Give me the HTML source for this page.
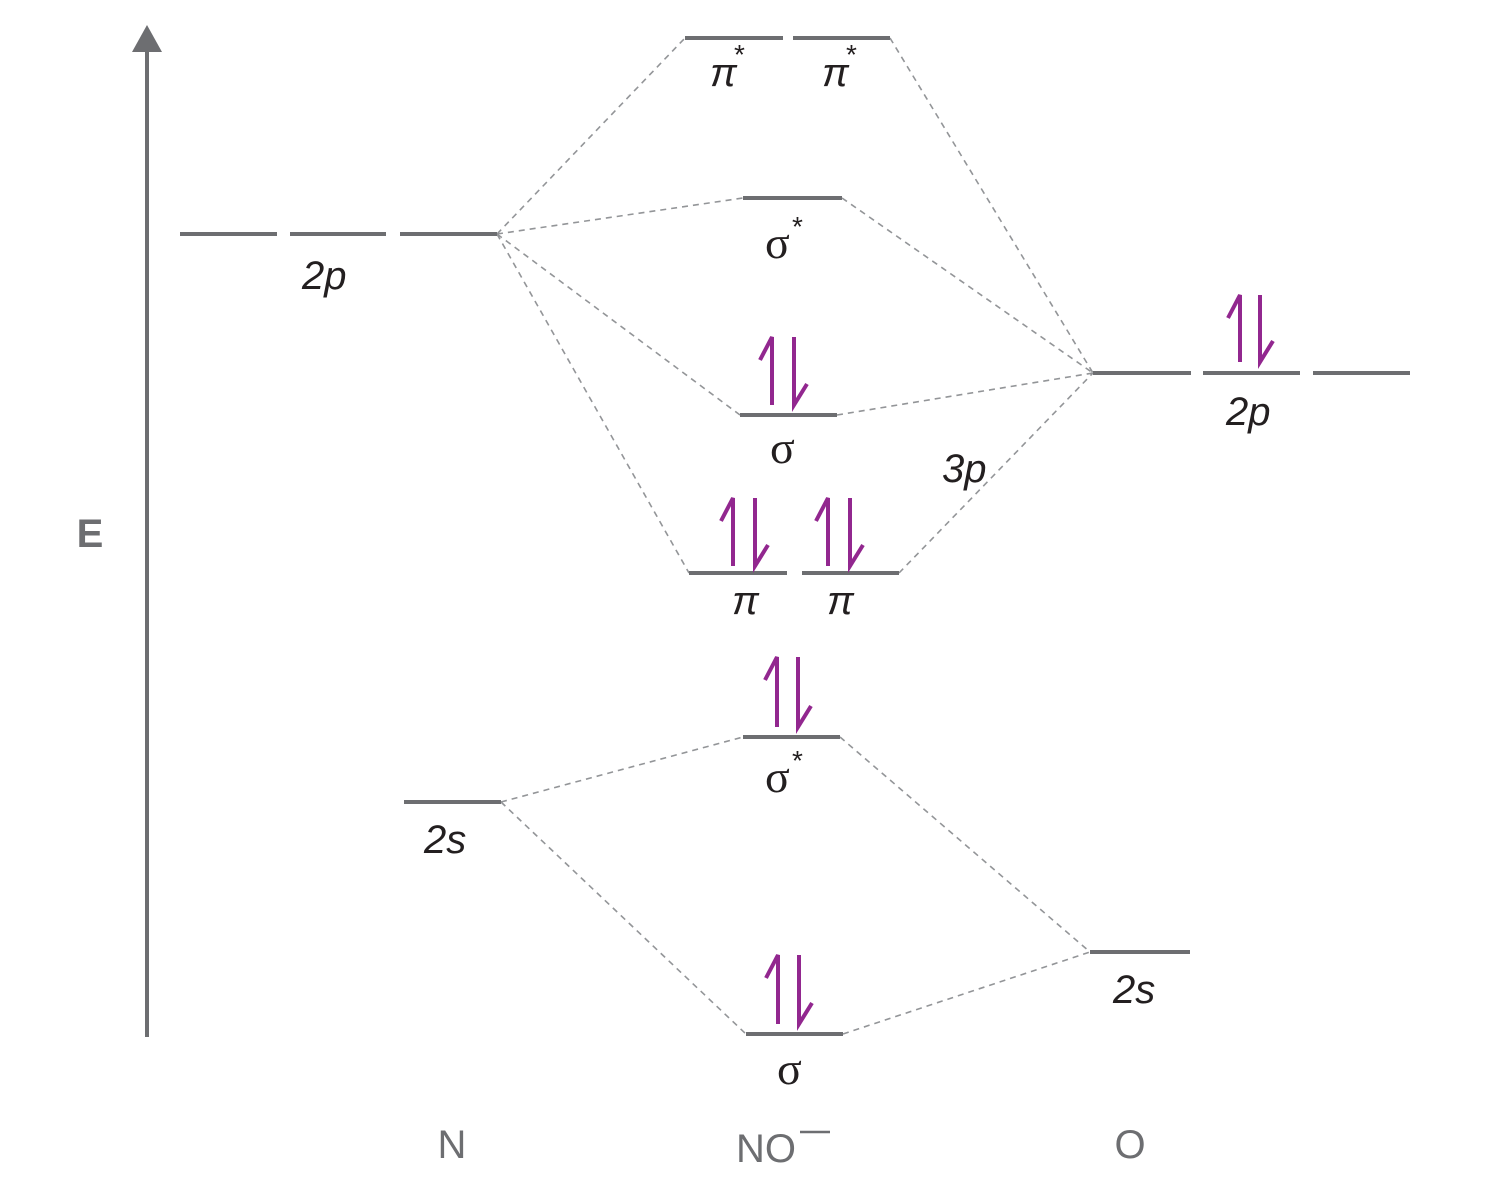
<!DOCTYPE html>
<html><head><meta charset="utf-8"><style>
html,body{margin:0;padding:0;background:#fff;}
svg{display:block;}
text{font-family:"Liberation Sans",sans-serif;fill:#231f20;}
.it{font-style:italic;}
.sg{font-family:"Liberation Serif",serif;}
.gl{fill:#6d6e71;}
</style></head><body>
<svg width="1500" height="1192" viewBox="0 0 1500 1192" xmlns="http://www.w3.org/2000/svg">
<line x1="147" y1="1037" x2="147" y2="50" stroke="#6d6e71" stroke-width="4"/>
<polygon points="147,25 132,52 162,52" fill="#6d6e71"/>
<text x="90" y="547" font-size="40" font-weight="bold" class="gl" text-anchor="middle">E</text>

<g stroke="#939598" stroke-width="1.6" stroke-dasharray="6,5" fill="none">
<line x1="497" y1="234" x2="685" y2="38"/>
<line x1="497" y1="234" x2="743" y2="198"/>
<line x1="497" y1="234" x2="740" y2="415"/>
<line x1="497" y1="234" x2="689" y2="573"/>
<line x1="890" y1="38" x2="1093" y2="373"/>
<line x1="842" y1="198" x2="1093" y2="373"/>
<line x1="837" y1="415" x2="1093" y2="373"/>
<line x1="899" y1="573" x2="1093" y2="373"/>
<line x1="501" y1="802" x2="743" y2="737"/>
<line x1="501" y1="802" x2="746" y2="1034"/>
<line x1="840" y1="737" x2="1090" y2="952"/>
<line x1="843" y1="1034" x2="1090" y2="952"/>
</g>

<g stroke="#6d6e71" stroke-width="4">
<line x1="180" y1="234" x2="277" y2="234"/>
<line x1="290" y1="234" x2="386" y2="234"/>
<line x1="400" y1="234" x2="497" y2="234"/>
<line x1="685" y1="38" x2="783" y2="38"/>
<line x1="793" y1="38" x2="890" y2="38"/>
<line x1="743" y1="198" x2="842" y2="198"/>
<line x1="740" y1="415" x2="837" y2="415"/>
<line x1="689" y1="573" x2="787" y2="573"/>
<line x1="802" y1="573" x2="899" y2="573"/>
<line x1="743" y1="737" x2="840" y2="737"/>
<line x1="746" y1="1034" x2="843" y2="1034"/>
<line x1="404" y1="802" x2="501" y2="802"/>
<line x1="1093" y1="373" x2="1191" y2="373"/>
<line x1="1203" y1="373" x2="1300" y2="373"/>
<line x1="1313" y1="373" x2="1410" y2="373"/>
<line x1="1090" y1="952" x2="1190" y2="952"/>
</g>

<g stroke="#92278f" stroke-width="4" fill="none">
<path d="M733,566 V498 L721,521"/><path d="M755,498 V566 L768,545"/>
<path d="M828,566 V498 L816,521"/><path d="M850,498 V566 L863,545"/>
<path d="M772,405 V337 L760,360"/><path d="M794,337 V405 L807,384"/>
<path d="M777,727 V657 L765,680"/><path d="M798,657 V727 L811,706"/>
<path d="M778,1024 V955 L766,978"/><path d="M799,955 V1024 L812,1003"/>
<path d="M1240,362 V295 L1228,318"/><path d="M1260,295 V362 L1273,341"/>
</g>

<g font-size="40">
<text x="302" y="289" class="it">2p</text>
<text x="424" y="853" class="it">2s</text>
<text x="1226" y="425" class="it">2p</text>
<text x="1113" y="1003" class="it">2s</text>
<text x="942" y="482" class="it">3p</text>
<text x="710" y="86" class="it">π</text><text x="734" y="64" font-size="28">*</text>
<text x="822" y="86" class="it">π</text><text x="846" y="64" font-size="28">*</text>
<text x="765" y="258" class="sg" font-size="46">σ</text><text x="792" y="236" font-size="28">*</text>
<text x="770" y="463" class="sg" font-size="46">σ</text>
<text x="732" y="614" class="it">π</text>
<text x="827" y="614" class="it">π</text>
<text x="765" y="792" class="sg" font-size="46">σ</text><text x="792" y="770" font-size="28">*</text>
<text x="777" y="1084" class="sg" font-size="46">σ</text>
<text x="452" y="1158" class="gl" text-anchor="middle">N</text>
<text x="736" y="1162" class="gl">NO</text>
<text x="1130" y="1158" class="gl" text-anchor="middle">O</text>
</g>
<line x1="800" y1="1132" x2="830" y2="1132" stroke="#6d6e71" stroke-width="2.5"/>
</svg>
</body></html>
